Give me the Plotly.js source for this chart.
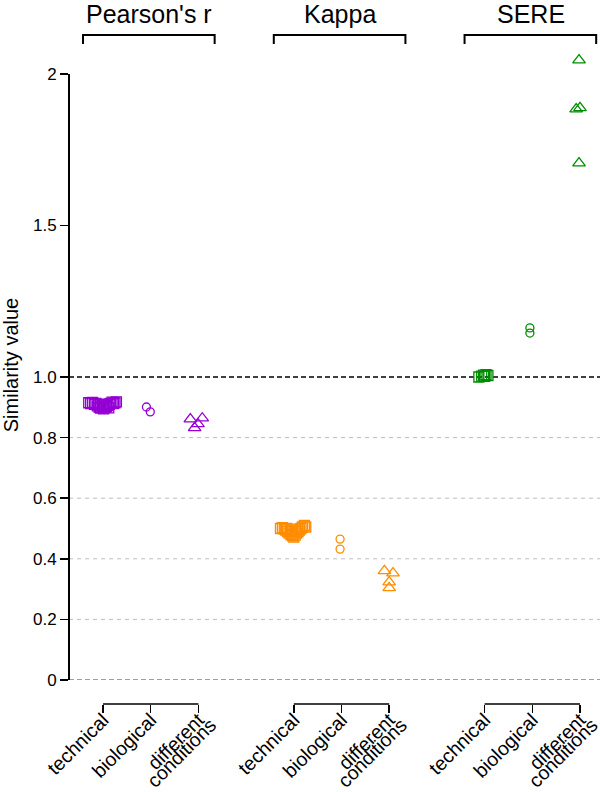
<!DOCTYPE html>
<html>
<head>
<meta charset="utf-8">
<script src="https://cdn.plot.ly/plotly-3.0.1.min.js"></script>
<style>html,body{margin:0;padding:0;background:#fff;}#chart{width:600px;height:792px;}</style>
</head>
<body>
<div id="chart"></div>
<script>
// ---- data ----
const groups = ["Pearson's r", "Kappa", "SERE"];
const groupCenters = [1.96, 5.96, 9.97];
const conditionPos = [1, 2, 3, 5, 6, 7, 9, 10, 11];
const conditionLine1 = ["technical", "biological", "different",
                        "technical", "biological", "different",
                        "technical", "biological", "different"];
const conditionLine2Pos = [3, 7, 11];
const conditionLine2 = ["conditions", "conditions", "conditions"];
const yTickVals = [0, 0.2, 0.4, 0.6, 0.8, 1.0, 1.5, 2];
const yTickText = ["0", "0.2", "0.4", "0.6", "0.8", "1.0", "1.5", "2"];

// Pearson's r
const pearsonTechX = [0.70,0.74,0.78,0.82,0.85,0.88,0.92,0.95,0.98,1.01,1.04,1.07,1.10,1.13,1.16,1.19,1.22,1.25,1.28,0.90,1.00,1.12];
const pearsonTechY = [0.915,0.912,0.916,0.910,0.913,0.905,0.900,0.897,0.903,0.895,0.899,0.902,0.906,0.910,0.913,0.917,0.912,0.915,0.918,0.908,0.910,0.898];
const pearsonBioX = [1.91, 1.99];
const pearsonBioY = [0.901, 0.885];
const pearsonDiffX = [2.83, 3.08, 2.99, 2.92];
const pearsonDiffY = [0.861, 0.864, 0.845, 0.832];

// Kappa
const kappaTechX = [4.72,4.76,4.80,4.83,4.87,4.90,4.94,4.97,5.00,5.03,5.06,5.09,5.12,5.15,5.18,5.22,5.25,4.85,5.08,4.95];
const kappaTechY = [0.500,0.503,0.498,0.495,0.490,0.485,0.480,0.476,0.472,0.478,0.485,0.490,0.495,0.500,0.505,0.510,0.505,0.500,0.498,0.492];
const kappaBioX = [5.97, 5.97];
const kappaBioY = [0.465, 0.432];
const kappaDiffX = [6.90, 7.08, 7.00, 7.00];
const kappaDiffY = [0.360, 0.353, 0.323, 0.304];

// SERE
const sereTechX = [8.88, 8.94, 8.98, 9.03, 9.07, 9.00];
const sereTechY = [1.000, 1.003, 1.006, 1.008, 1.005, 1.002];
const sereBioX = [9.95, 9.95];
const sereBioY = [1.162, 1.145];
const sereDiffX = [10.98, 10.92, 11.00, 10.98];
const sereDiffY = [2.046, 1.884, 1.888, 1.706];

// ---- styles ----
const purple = '#9400D3', orange = '#FF8C00', green = '#008B00';
function tr(x, y, color, symbol, size) {
  return {x: x, y: y, type: 'scatter', mode: 'markers', cliponaxis: false, hoverinfo: 'skip',
    marker: {symbol: symbol, size: size, color: color, line: {color: color, width: 1.3}}};
}
const data = [
  tr(pearsonTechX, pearsonTechY, purple, 'square-open', 10),
  tr(pearsonBioX, pearsonBioY, purple, 'circle-open', 8),
  tr(pearsonDiffX, pearsonDiffY, purple, 'triangle-up-open', 11),
  tr(kappaTechX, kappaTechY, orange, 'square-open', 10),
  tr(kappaBioX, kappaBioY, orange, 'circle-open', 8),
  tr(kappaDiffX, kappaDiffY, orange, 'triangle-up-open', 11),
  tr(sereTechX, sereTechY, green, 'square-open', 10),
  tr(sereBioX, sereBioY, green, 'circle-open', 8),
  tr(sereDiffX, sereDiffY, green, 'triangle-up-open', 11)
];
// invisible trace on the second x axis so it is drawn
data.push({x: conditionLine2Pos, y: [0, 0, 0], xaxis: 'x2', yaxis: 'y', type: 'scatter', mode: 'markers',
  marker: {opacity: 0}, hoverinfo: 'skip'});

const plotTop = 50, plotBottom = 704, H = 792;
const zeroPix = 680, pxPerUnit = 303;
const plotH = plotBottom - plotTop;
const yDomLow = (plotBottom - zeroPix) / plotH;
const yMax = (zeroPix - plotTop) / pxPerUnit;
function py(pix) { return (plotBottom - pix) / plotH; }

const shapes = [];
// horizontal dashed reference lines
[0.2, 0.4, 0.6, 0.8].forEach(v => {
  shapes.push({type:'line', xref:'paper', x0:0, x1:1, yref:'y', y0:v, y1:v, layer:'below', line:{color:'#BEBEBE', width:1, dash:'4px,4px'}});
});
shapes.push({type:'line', xref:'paper', x0:0, x1:1, yref:'y', y0:0, y1:0, layer:'below', line:{color:'#7F7F7F', width:1.5, dash:'5px,3px'}});
shapes.push({type:'line', xref:'paper', x0:0, x1:1, yref:'y', y0:1, y1:1, layer:'below', line:{color:'#000000', width:1.5, dash:'5px,3px'}});
// y axis line from 0 to 2
shapes.push({type:'line', xref:'paper', x0:0, x1:0, yref:'y', y0:yTickVals[0], y1:yTickVals[yTickVals.length-1], line:{color:'#000', width:2}});

// top brackets + bottom bracket lines
const annotations = [];
for (let g = 0; g < 3; g++) {
  const s = conditionPos[g*3];
  const a = s - 0.42, b = s + 2.34;
  const yTop = py(35), yTick = py(44);
  shapes.push({type:'path', xref:'x', yref:'paper', path:`M${a},${yTick} L${a},${yTop} L${b},${yTop} L${b},${yTick}`, line:{color:'#000', width:2}});
  shapes.push({type:'line', xref:'x', yref:'paper', x0:s, x1:conditionPos[g*3+2], y0:0, y1:0, line:{color:'#000', width:1.5}});
  annotations.push({text: groups[g], x: groupCenters[g], xref:'x', y: py(14), yref:'paper', showarrow:false,
    xanchor:'center', yanchor:'middle', font:{size:25, color:'#000', family:'Liberation Sans, Arial, sans-serif'}});
}

const labFont = {size: 19.5, color: '#000'};
const layout = {
  width: 600, height: 792,
  margin: {l: 69, r: 0, t: plotTop, b: H - plotBottom, pad: 0},
  paper_bgcolor: '#fff', plot_bgcolor: '#fff',
  showlegend: false,
  font: {family: 'Liberation Sans, Arial, sans-serif', color: '#000'},
  xaxis: {
    range: [0.286, 11.42], anchor: 'free', position: 0,
    showgrid: false, zeroline: false, showline: false,
    tickmode: 'array', tickvals: conditionPos, ticktext: conditionLine1,
    ticks: 'outside', ticklen: 8, tickwidth: 1.5, tickcolor: '#000',
    tickangle: -45, tickfont: labFont,
    ticklabelstandoff: -12, ticklabeloverflow: 'allow'
  },
  xaxis2: {
    range: [0.286, 11.42], overlaying: 'x', anchor: 'free', position: 0, side: 'bottom',
    showgrid: false, zeroline: false, showline: false,
    tickmode: 'array', tickvals: conditionLine2Pos, ticktext: conditionLine2,
    ticks: 'outside', ticklen: 8, tickwidth: 0, tickcolor: 'rgba(0,0,0,0)',
    tickangle: -45, tickfont: labFont,
    ticklabelstandoff: -7, ticklabelshift: 12, ticklabeloverflow: 'allow'
  },
  yaxis: {
    range: [0, yMax], domain: [yDomLow, 1],
    showgrid: false, zeroline: false, showline: false,
    tickmode: 'array', tickvals: yTickVals, ticktext: yTickText,
    ticks: 'outside', ticklen: 8, tickwidth: 1.5, tickcolor: '#000',
    tickfont: {size: 17},
    title: {text: 'Similarity value', font: {size: 20}, standoff: 12}
  },
  shapes: shapes,
  annotations: annotations
};

Plotly.newPlot('chart', data, layout, {displayModeBar: false, staticPlot: true});
</script>
</body>
</html>
